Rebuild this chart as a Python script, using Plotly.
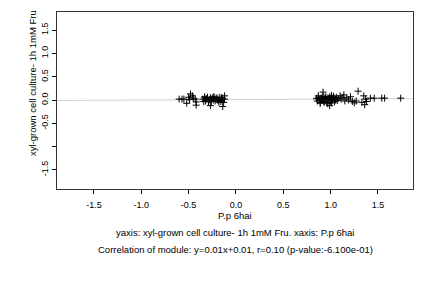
import plotly.graph_objects as go

# Data: module 1 (left cluster) and module 2 (right cluster)
x1 = [-0.60, -0.57, -0.55, -0.50, -0.48, -0.46, -0.49, -0.45, -0.43, -0.52, -0.42, -0.42,
      -0.35, -0.34, -0.33, -0.32, -0.31, -0.30, -0.29, -0.28, -0.27, -0.26, -0.25, -0.24,
      -0.23, -0.22, -0.21, -0.20, -0.19, -0.18, -0.17, -0.16, -0.15, -0.14, -0.13, -0.12,
      -0.27, -0.14, -0.12, -0.33, -0.24, -0.18, -0.15]
y1 = [0.02, 0.02, 0.02, 0.06, 0.13, 0.09, 0.01, 0.04, 0.02, -0.07, -0.04, -0.11,
      0.02, -0.03, 0.05, -0.02, 0.03, 0.06, -0.04, 0.01, 0.05, -0.03, 0.04, 0.00,
      0.07, -0.02, 0.03, 0.05, -0.01, 0.02, 0.06, -0.03, 0.01, 0.04, -0.05, 0.02,
      -0.12, -0.14, 0.09, 0.07, 0.06, -0.05, 0.05]

x2 = [0.85, 0.86, 0.87, 0.88, 0.89, 0.90, 0.91, 0.92, 0.93, 0.94, 0.95, 0.96,
      0.97, 0.98, 0.99, 1.00, 1.01, 1.02, 1.03, 1.04, 1.05, 1.06, 1.07, 1.08,
      0.87, 0.89, 0.91, 0.93, 0.95, 0.97, 0.99, 1.01, 1.03, 1.05,
      0.92, 0.99, 1.01,
      1.11, 1.13, 1.15, 1.17, 1.19, 1.21, 1.23, 1.25, 1.27, 1.29, 1.33, 1.35,
      1.36, 1.37, 1.38, 1.42, 1.46, 1.54, 1.57, 1.74, 1.10, 1.14]
y2 = [0.03, -0.02, 0.06, 0.01, -0.05, 0.04, 0.00, 0.08, -0.03, 0.05, 0.02, -0.06,
      0.04, 0.01, 0.07, -0.02, 0.03, 0.00, 0.05, -0.04, 0.02, 0.06, -0.01, 0.03,
      0.09, -0.07, 0.05, -0.05, 0.07, -0.08, 0.04, -0.06, 0.08, 0.00,
      0.17, -0.12, 0.10,
      0.02, 0.06, -0.02, 0.04, 0.00, 0.07, -0.03, -0.06, -0.02, 0.19, -0.05, 0.09,
      -0.10, 0.02, -0.03, 0.04, 0.04, 0.04, 0.04, 0.04, 0.09, 0.11]

slope = 0.01
intercept = 0.01
x_range = [-1.89, 1.87]
y_range = [-1.91, 1.89]

x_ticks = [-1.5, -1.0, -0.5, 0.0, 0.5, 1.0, 1.5]
x_ticktext = ["-1.5", "-1.0", "-0.5", "0.0", "0.5", "1.0", "1.5"]
y_ticks = [-1.5, -1.0, -0.5, 0.0, 0.5, 1.0, 1.5]
y_ticktext = ["-1.5", "", "-0.5", "0.0", "0.5", "1.0", "1.5"]

x_label = "P.p 6hai"
y_label = "xyl-grown cell culture- 1h 1mM Fru"
line1 = "yaxis: xyl-grown cell culture- 1h 1mM Fru. xaxis: P.p 6hai"
line2 = "Correlation of module: y=0.01x+0.01, r=0.10 (p-value:-6.100e-01)"

FONT = "Liberation Sans, Arial, Helvetica, sans-serif"
FS_TICK = 9
FS = 9.5

fig = go.Figure()
fig.add_trace(go.Scatter(
    x=x_range, y=[slope * v + intercept for v in x_range],
    mode="lines", line=dict(color="#d0d0d0", width=1), hoverinfo="skip"))
fig.add_trace(go.Scatter(
    x=x1 + x2, y=y1 + y2, mode="markers",
    marker=dict(symbol="cross-thin", size=5, line=dict(color="black", width=1), color="black")))

axis_common = dict(
    showgrid=False, zeroline=False, showline=True, mirror=True,
    linecolor="#333333", linewidth=1, ticks="outside", ticklen=4,
    tickcolor="black", tickfont=dict(family=FONT, size=FS_TICK, color="black"),
)
fig.update_xaxes(range=x_range, tickvals=x_ticks, ticktext=x_ticktext,
                 ticklabelstandoff=3, **axis_common)
fig.update_yaxes(range=y_range, tickvals=y_ticks, ticktext=y_ticktext, tickangle=-90,
                 **axis_common)

ann_font = dict(family=FONT, size=FS, color="black")
fig.update_layout(
    width=432, height=288,
    margin=dict(l=57, r=19, t=12, b=99),
    plot_bgcolor="white", paper_bgcolor="white",
    showlegend=False,
    annotations=[
        dict(text=x_label, xref="paper", yref="paper", x=0.5, y=(189 - 215) / 177,
             showarrow=False, font=ann_font, xanchor="center", yanchor="middle"),
        dict(text=line1, xref="paper", yref="paper", x=0.5, y=(189 - 232) / 177,
             showarrow=False, font=ann_font, xanchor="center", yanchor="middle"),
        dict(text=line2, xref="paper", yref="paper", x=0.5, y=(189 - 249) / 177,
             showarrow=False, font=ann_font, xanchor="center", yanchor="middle"),
        dict(text=y_label, xref="paper", yref="paper", x=(32 - 57) / 356, y=(189 - 83) / 177,
             showarrow=False, font=ann_font, textangle=-90, xanchor="center", yanchor="middle"),
    ],
)

fig.write_html("out.html")
